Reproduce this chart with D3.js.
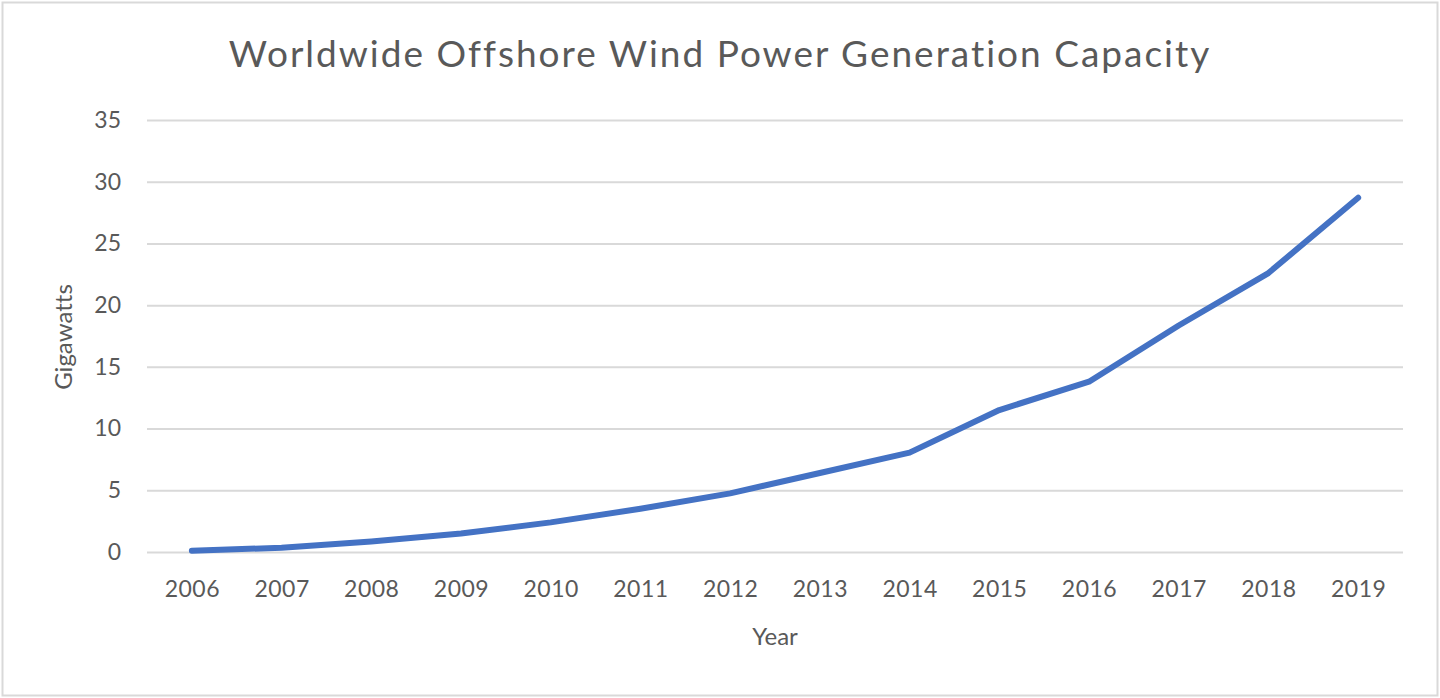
<!DOCTYPE html>
<html>
<head>
<meta charset="utf-8">
<script src="https://cdn.jsdelivr.net/npm/d3@7"></script>
<style>
  body { margin: 0; background: #fff; }
  svg { display: block; }
  text { font-variant-ligatures: none; }
</style>
</head>
<body>
<svg id="chart" width="1440" height="698"></svg>
<script>
// Data
const years = ["2006", "2007", "2008", "2009", "2010", "2011", "2012", "2013", "2014", "2015", "2016", "2017", "2018", "2019"];
const capacity = [0.1, 0.35, 0.85, 1.5, 2.4, 3.5, 4.75, 6.4, 8.05, 11.5, 13.8, 18.35, 22.6, 28.7];
const yTicks = [0, 5, 10, 15, 20, 25, 30, 35];

const titleText = "Worldwide Offshore Wind Power Generation Capacity";
const xLabel = "Year";
const yLabel = "Gigawatts";

// Layout of the plot area
const width = 1440, height = 698;
const plot = {left: 147, right: 1403, top: 120, bottom: 552};
const textColor = "#595959";
const font = "Lato, 'Open Sans', sans-serif";

let svg = d3.select("#chart");

// Outer border of the chart area
svg.append("rect")
    .attr("x", 2.5).attr("y", 2.5)
    .attr("width", width - 5).attr("height", height - 5)
    .attr("fill", "#fff")
    .attr("stroke", "#d9d9d9")
    .attr("stroke-width", 2);

// Scales
let x = d3.scalePoint().domain(years).range([plot.left, plot.right]).padding(0.5);
let y = d3.scaleLinear().domain([0, 35]).range([plot.bottom, plot.top]);

// Horizontal gridlines + y tick labels
let yAxis = d3.axisLeft(y)
    .tickValues(yTicks)
    .tickSize(-(plot.right - plot.left))
    .tickPadding(26);

let gy = svg.append("g")
    .attr("transform", `translate(${plot.left},0)`)
    .call(yAxis);
gy.select(".domain").remove();
gy.selectAll(".tick line").attr("stroke", "#d9d9d9").attr("stroke-width", 2);
gy.selectAll(".tick text")
    .attr("fill", textColor)
    .style("font-family", font)
    .style("font-size", "23px");

// x tick labels (no tick marks, gridline at 0 acts as the axis)
let xAxis = d3.axisBottom(x).tickSize(0).tickPadding(29);
let gx = svg.append("g")
    .attr("transform", `translate(0,${plot.bottom})`)
    .call(xAxis);
gx.select(".domain").remove();
gx.selectAll(".tick text")
    .attr("fill", textColor)
    .style("font-family", font)
    .style("font-size", "23px")
    .style("letter-spacing", "0.5px");

// The data line
let lineFunction = d3.line()
    .x((d, i) => x(years[i]))
    .y(d => y(d));

svg.append("path")
    .attr("d", lineFunction(capacity))
    .attr("fill", "none")
    .attr("stroke", "#4472c4")
    .attr("stroke-width", 6)
    .attr("stroke-linecap", "round")
    .attr("stroke-linejoin", "round");

// Title
svg.append("text")
    .attr("x", 720).attr("y", 67)
    .attr("text-anchor", "middle")
    .attr("fill", textColor)
    .style("font-family", font)
    .style("font-size", "37px")
    .style("letter-spacing", "2px")
    .text(titleText);

// Axis titles
svg.append("text")
    .attr("x", (plot.left + plot.right) / 2).attr("y", 645)
    .attr("text-anchor", "middle")
    .attr("fill", textColor)
    .style("font-family", font)
    .style("font-size", "24px")
    .text(xLabel);

svg.append("text")
    .attr("transform", "translate(72,337) rotate(-90)")
    .attr("text-anchor", "middle")
    .attr("fill", textColor)
    .style("font-family", font)
    .style("font-size", "24px")
    .text(yLabel);
</script>
</body>
</html>
